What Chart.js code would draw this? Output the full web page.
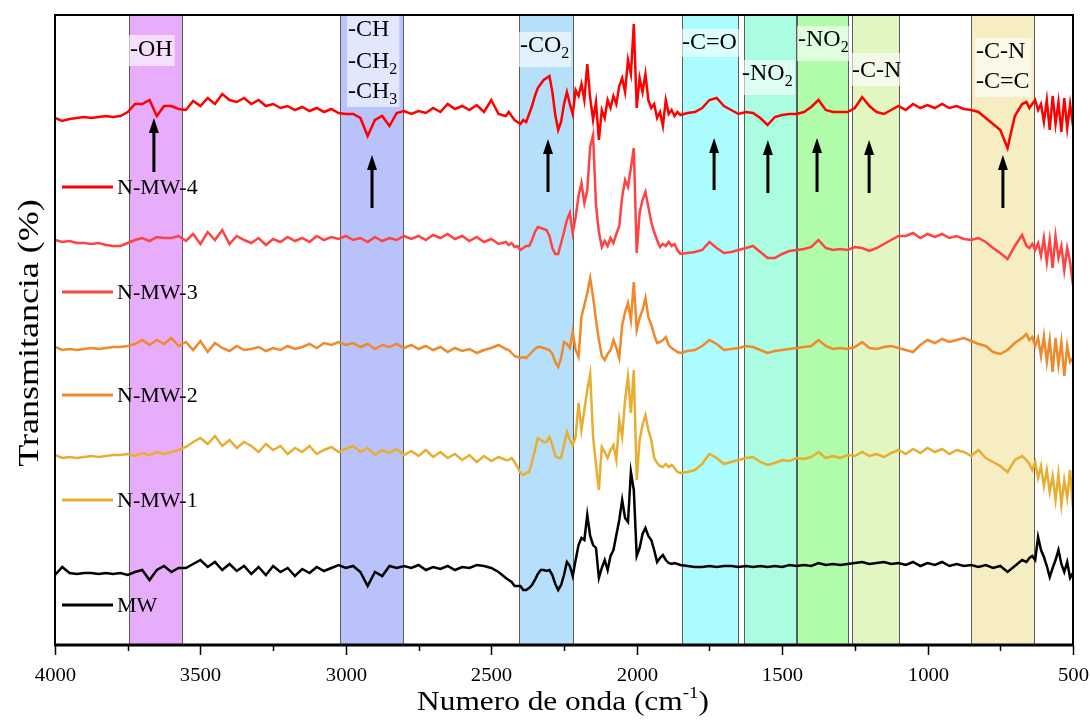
<!DOCTYPE html>
<html>
<head>
<meta charset="utf-8">
<title>FTIR</title>
<script src="https://cdn.jsdelivr.net/npm/chart.js@4.4.1/dist/chart.umd.min.js"></script>
<style>
  html, body { margin: 0; padding: 0; background: #fff; }
  #wrap { width: 1090px; height: 720px; }
</style>
</head>
<body>
<div id="wrap"><canvas id="ftir" width="1090" height="720"></canvas></div>
<script>
// FTIR spectra, stacked (arbitrary transmittance units)

const wavenumbers = [
    4000, 3975, 3950, 3925, 3900, 3875, 3850, 3825, 3800, 3775, 3750, 3725, 3700, 3675, 3650, 3625, 3600, 3575, 3550, 3525,
    3500, 3475, 3450, 3425, 3400, 3375, 3350, 3325, 3300, 3275, 3250, 3225, 3200, 3175, 3150, 3125, 3100, 3075, 3050, 3025,
    3000, 2975, 2950, 2925, 2900, 2875, 2850, 2825, 2800, 2775, 2750, 2725, 2700, 2675, 2650, 2625, 2600, 2575, 2550, 2525,
    2500, 2475, 2450,
    2440, 2430, 2420, 2410, 2400, 2390, 2380, 2370, 2360, 2350, 2340, 2330, 2320, 2310, 2300, 2290, 2280, 2270, 2260, 2250,
    2240, 2230, 2220, 2210, 2200, 2190, 2180, 2170, 2160, 2150, 2140, 2130, 2120, 2110, 2100, 2090, 2080, 2070, 2060, 2050,
    2040, 2030, 2020, 2010, 2000, 1990, 1980, 1970, 1960, 1950, 1940, 1930, 1920, 1910, 1900, 1890, 1880, 1870, 1860,
    1850, 1825, 1800, 1775, 1750, 1725, 1700, 1675, 1650, 1625, 1600, 1575, 1550, 1525, 1500, 1475, 1450, 1425, 1400, 1375,
    1350, 1325, 1300, 1275, 1250, 1225, 1200, 1175, 1150, 1125, 1100, 1075, 1050, 1025, 1000, 975, 950, 925, 900, 875,
    850, 825, 800, 775, 750, 725, 700, 675,
    660, 650, 640, 630, 620, 610, 600, 590, 580, 570, 560, 550, 540, 530, 520, 510, 500
];

const seriesNames = ['N-MW-4', 'N-MW-3', 'N-MW-2', 'N-MW-1', 'MW'];

const nmw4 = [
    527, 524, 526, 527, 528, 527, 528, 529, 528, 529, 533, 541, 541, 545, 529, 539, 539, 536, 535, 544,
    539, 547, 541, 551, 545, 543, 547, 541, 545, 539, 541, 537, 539, 535, 538, 534, 537, 533, 536, 532,
    531, 531, 527, 509, 525, 529, 519, 532, 534, 531, 534, 532, 537, 533, 541, 536, 539, 535, 540, 533,
    545, 531, 529,
    533, 529, 525, 523, 521, 525, 523, 531, 539, 549, 557, 561, 565, 567, 569, 553, 530, 515, 523, 541,
    553, 541, 531, 555, 549, 561, 545, 581, 547, 525, 543, 505, 535, 527, 545, 537, 549, 541, 559, 567,
    553, 585, 571, 621, 537, 567, 553, 571, 545, 537, 541, 527, 533, 519, 545, 531, 535, 529, 533,
    530, 532, 533, 537, 545, 547, 539, 535, 531, 533, 532, 527, 520, 528, 530, 531, 531, 533, 538, 545,
    535, 533, 533, 533, 537, 548, 539, 533, 531, 535, 539, 535, 541, 537, 540, 537, 541, 537, 539, 536,
    535, 533, 527, 521, 515, 497, 529, 541,
    543, 537, 541, 545, 535, 541, 523, 545, 515, 549, 521, 543, 513, 547, 517, 541, 519
];

const nmw3 = [
    405, 403, 404, 402, 402, 401, 402, 400, 399, 399, 402, 405, 407, 404, 408, 407, 407, 409, 404, 411,
    401, 413, 405, 415, 401, 409, 405, 402, 407, 400, 406, 403, 408, 404, 407, 403, 409, 405, 408, 406,
    409, 405, 407, 403, 408, 404, 407, 405, 409, 406, 409, 405, 410, 407, 411, 406, 409, 404, 408, 403,
    406, 401, 403,
    400, 402, 398, 399, 395, 397, 399, 399, 405, 413, 418, 417, 416, 415, 409, 397, 391, 391, 402, 413,
    425, 432, 412, 428, 449, 462, 442, 455, 498, 510, 440, 413, 398, 404, 399, 407, 402, 411, 419, 448,
    465, 458, 477, 497, 392, 432, 445, 453, 438, 423, 413, 405, 398, 401, 399, 403, 399, 401, 395,
    391, 392, 393, 395, 403, 397, 392, 393, 395, 397, 399, 393, 387, 387, 391, 394, 395, 396, 398, 405,
    397, 395, 396, 395, 398, 397, 394, 397, 401, 405, 409, 409, 412, 407, 411, 408, 411, 407, 409, 406,
    405, 407, 403, 397, 392, 386, 399, 410,
    399, 397, 401, 395, 402, 389, 407, 383, 405, 377, 409, 387, 399, 375, 397, 383, 360
];

const nmw2 = [
    298, 295, 296, 295, 296, 297, 296, 297, 298, 298, 299, 301, 305, 300, 305, 301, 307, 299, 303, 295,
    304, 293, 302, 297, 294, 299, 295, 296, 298, 294, 297, 295, 299, 296, 298, 301, 297, 302, 300, 303,
    300, 302, 298, 301, 296, 300, 298, 301, 297, 300, 296, 299, 295, 298, 293, 297, 294, 296, 292, 295,
    297, 300, 296,
    295, 292, 289, 288, 287, 288, 287, 290, 293, 296, 298, 298, 297, 296, 295, 291, 283, 278, 287, 303,
    301, 297, 313, 295, 288, 328, 340, 352, 367, 348, 325, 305, 289, 285, 291, 295, 305, 297, 287, 320,
    333, 342, 325, 363, 315, 327, 335, 347, 328, 320, 310, 302, 303, 305, 308, 300, 297, 295, 293,
    292, 294, 295, 299, 305, 301, 295, 296, 297, 299, 298, 295, 292, 294, 295, 296, 297, 298, 299, 305,
    299, 296, 297, 296, 298, 303, 297, 296, 298, 299, 297, 295, 293, 300, 305, 302, 306, 303, 305, 307,
    304, 301, 299, 293, 291, 295, 302, 307,
    311, 305, 308, 299, 307, 289, 309, 283, 305, 273, 307, 280, 303, 269, 299, 283, 287
];

const nmw1 = [
    190, 187, 188, 187, 188, 189, 188, 189, 190, 190, 191, 189, 192, 190, 193, 191, 193, 195, 198, 203,
    207, 201, 209, 199, 205, 197, 203, 199, 193, 201, 195, 199, 191, 197, 193, 199, 191, 195, 198, 193,
    196, 199, 193, 197, 190, 195, 192, 196, 190, 194, 189, 195, 188, 193, 187, 191, 185, 190, 183, 189,
    184, 188, 185,
    185, 187, 183, 178, 172, 170, 172, 173, 183, 195, 207, 205, 203, 203, 208, 200, 189, 187, 187, 200,
    213, 205, 200, 208, 242, 215, 235, 255, 271, 208, 180, 155, 198, 193, 187, 195, 200, 185, 225, 208,
    245, 268, 232, 275, 165, 205, 220, 230, 215, 205, 187, 182, 179, 178, 181, 178, 180, 177, 173,
    172, 173, 175, 181, 191, 187, 181, 183, 185, 187, 188, 183, 180, 182, 185, 184, 187, 186, 188, 193,
    187, 189, 187, 190, 189, 193, 189, 191, 188, 192, 195, 191, 196, 192, 197, 193, 196, 191, 195, 193,
    189, 195, 187, 183, 179, 173, 185, 189,
    185, 181, 175, 183, 167, 179, 159, 175, 153, 169, 145, 171, 140, 165, 147, 175, 137
];

const mw = [
    70, 78, 72, 71, 72, 72, 71, 72, 71, 72, 70, 73, 75, 65, 75, 79, 73, 77, 77, 81,
    85, 78, 83, 75, 81, 74, 79, 71, 78, 70, 79, 73, 77, 69, 76, 72, 78, 74, 77, 80,
    77, 79, 73, 59, 73, 69, 79, 77, 79, 77, 80, 75, 78, 76, 79, 75, 78, 77, 80, 79,
    77, 73, 67,
    65, 63, 59, 59, 59, 55, 55, 57, 60, 65, 71, 75, 75, 74, 75, 70, 61, 55, 60, 70,
    83, 79, 69, 85, 100, 107, 105, 130, 109, 100, 97, 67, 77, 85, 75, 89, 95, 110, 125, 145,
    127, 123, 173, 155, 89, 97, 111, 117, 109, 105, 95, 83, 87, 90, 85, 82, 81, 82, 81,
    80, 79, 78, 78, 79, 78, 79, 79, 78, 79, 78, 79, 78, 79, 78, 80, 79, 80, 79, 82,
    80, 81, 80, 81, 82, 83, 81, 82, 83, 81, 82, 80, 83, 79, 82, 80, 83, 79, 81, 79,
    80, 78, 80, 77, 79, 73, 79, 85,
    83, 87, 89, 85, 108, 95, 88, 79, 68, 77, 85, 95, 81, 73, 83, 67, 72
];

// absorption bands (cm-1, high -> low) and their group labels
const bandRanges = [[3745, 3565], [3020, 2805], [2405, 2220], [1845, 1652], [1631, 1453], [1449, 1274], [1260, 1099], [851, 635]];
const bandLabels = [['-OH'], ['-CH', '-CH_2', '-CH_3'], ['-CO_2'], ['-C=O'], ['-NO_2'], ['-NO_2'], ['-C-N'], ['-C-N', '-C=C']];
const arrowAt = [3660, 2910, 2305, 1734, 1549, 1380, 1201, 741];

const majorTicks = [4000, 3500, 3000, 2500, 2000, 1500, 1000, 500];
const minorTicks = [3750, 3250, 2750, 2250, 1750, 1250, 750];

// styling
const seriesValues = [nmw4, nmw3, nmw2, nmw1, mw];
const lineColors = ['#ff0000', '#ff4242', '#f0882c', '#e8ae32', '#000000'];
const bandColors = ['#e8adfa', '#b9c2fb', '#b5dffb', '#abfdfd', '#abfde1', '#b0fcaa', '#e2f6c2', '#f6eec2'];
const labelBoxes = [
    { dx: 0, top: 35, bottom: 66, ys: [50] },
    { dx: 7, top: 15, bottom: 107, ys: [30, 62, 92] },
    { dx: 0, top: 32, bottom: 67, ys: [46] },
    { dx: -1, top: 29, bottom: 57, ys: [43] },
    { dx: -3, top: 60, bottom: 95, ys: [74] },
    { dx: 0, top: 26, bottom: 61, ys: [40] },
    { dx: -1, top: 53, bottom: 86, ys: [71] },
    { dx: 4, top: 38, bottom: 97, ys: [52, 82] }
];
const arrowY = [[118, 172], [155, 208], [139, 192], [138, 190], [140, 193], [138, 192], [140, 193], [155, 208]];
const legendY = [187, 292, 395, 500, 605];
const SERIF = '"Liberation Serif", "Times New Roman", serif';

// text with an optional subscript: '-CH_2'
function drawRich(ctx, text, x, y, size, measureOnly) {
    const parts = text.split('_');
    ctx.font = size + 'px ' + SERIF;
    let w = ctx.measureText(parts[0]).width;
    if (!measureOnly) ctx.fillText(parts[0], x, y);
    if (parts[1]) {
        const sub = Math.round(size * 0.66);
        ctx.font = sub + 'px ' + SERIF;
        if (!measureOnly) ctx.fillText(parts[1], x + w, y + size * 0.32);
        w += ctx.measureText(parts[1]).width;
    }
    return w;
}

function drawStretched(ctx, x, y, angle, sx, pieces) {
    // pieces: [text, size, dy]
    ctx.save();
    ctx.translate(x, y);
    ctx.rotate(angle);
    ctx.scale(sx, 1);
    let total = 0;
    pieces.forEach(p => { ctx.font = p[1] + 'px ' + SERIF; total += ctx.measureText(p[0]).width; });
    let cx = -total / 2;
    pieces.forEach(p => {
        ctx.font = p[1] + 'px ' + SERIF;
        ctx.fillText(p[0], cx, p[2]);
        cx += ctx.measureText(p[0]).width;
    });
    ctx.restore();
}

const decorations = {
    id: 'decorations',
    beforeDatasetsDraw(chart) {
        const { ctx, chartArea: a, scales: { x } } = chart;
        ctx.save();
        bandRanges.forEach(([w1, w2], i) => {
            const p1 = Math.round(x.getPixelForValue(w1));
            const p2 = Math.round(x.getPixelForValue(w2));
            ctx.fillStyle = bandColors[i];
            ctx.fillRect(p1, a.top, p2 - p1, a.bottom - a.top);
            ctx.strokeStyle = '#5c5c5c';
            ctx.lineWidth = 1;
            ctx.strokeRect(p1 + 0.5, a.top, p2 - p1, a.bottom - a.top);
        });
        ctx.restore();
    },
    afterDatasetsDraw(chart) {
        const { ctx, chartArea: a, scales: { x } } = chart;
        ctx.save();
        ctx.textBaseline = 'middle';
        ctx.textAlign = 'left';

        // band labels
        bandLabels.forEach((lines, i) => {
            const cfg = labelBoxes[i];
            const left = Math.round(x.getPixelForValue(bandRanges[i][0])) + cfg.dx;
            const w = Math.max(...lines.map(t => drawRich(ctx, t, 0, 0, 24, true)));
            ctx.fillStyle = 'rgba(255,255,255,0.6)';
            ctx.fillRect(left, cfg.top, w + 3, cfg.bottom - cfg.top);
            ctx.fillStyle = '#000';
            lines.forEach((t, j) => drawRich(ctx, t, left + 1, cfg.ys[j], 24));
        });

        // arrows
        ctx.strokeStyle = '#000';
        ctx.fillStyle = '#000';
        ctx.lineWidth = 3;
        arrowAt.forEach((w, i) => {
            const px = x.getPixelForValue(w);
            const [tip, tail] = arrowY[i];
            ctx.beginPath();
            ctx.moveTo(px, tail);
            ctx.lineTo(px, tip + 10);
            ctx.stroke();
            ctx.beginPath();
            ctx.moveTo(px, tip);
            ctx.lineTo(px - 5, tip + 15);
            ctx.lineTo(px + 5, tip + 15);
            ctx.closePath();
            ctx.fill();
        });

        // legend
        seriesNames.forEach((name, i) => {
            ctx.strokeStyle = lineColors[i];
            ctx.lineWidth = 3;
            ctx.beginPath();
            ctx.moveTo(62, legendY[i]);
            ctx.lineTo(113, legendY[i]);
            ctx.stroke();
            ctx.fillStyle = '#000';
            ctx.font = '22px ' + SERIF;
            ctx.fillText(name, 117, legendY[i] + 1);
        });

        // frame
        ctx.strokeStyle = '#000';
        ctx.lineWidth = 2;
        ctx.strokeRect(a.left, a.top, a.right - a.left, a.bottom - a.top);
        ctx.lineWidth = 3;
        ctx.beginPath();
        ctx.moveTo(a.left - 1, a.bottom);
        ctx.lineTo(a.right + 1, a.bottom);
        ctx.stroke();

        // tick marks and labels
        ctx.lineWidth = 1.5;
        majorTicks.forEach(w => {
            const px = Math.round(x.getPixelForValue(w)) + 0.5;
            ctx.beginPath(); ctx.moveTo(px, a.bottom); ctx.lineTo(px, a.bottom + 10); ctx.stroke();
            drawStretched(ctx, px, a.bottom + 31, 0, 1.15, [[String(w), 18, 0]]);
        });
        minorTicks.forEach(w => {
            const px = Math.round(x.getPixelForValue(w)) + 0.5;
            ctx.beginPath(); ctx.moveTo(px, a.bottom); ctx.lineTo(px, a.bottom + 6); ctx.stroke();
        });

        // axis titles
        ctx.fillStyle = '#000';
        ctx.textBaseline = 'middle';
        drawStretched(ctx, 563, 703, 0, 1.12, [['Numero de onda (cm', 28, 0], ['-1', 17, -9], [')', 28, 0]]);
        drawStretched(ctx, 30, 333, -Math.PI / 2, 1.2, [['Transmitancia (%)', 30, 0]]);
        ctx.restore();
    }
};

new Chart(document.getElementById('ftir'), {
    type: 'line',
    data: {
        datasets: seriesNames.map((name, i) => ({
            label: name,
            data: wavenumbers.map((w, j) => ({ x: w, y: seriesValues[i][j] })),
            borderColor: lineColors[i],
            borderWidth: 2.5,
            pointRadius: 0,
            tension: 0,
            fill: false
        }))
    },
    options: {
        responsive: false,
        animation: false,
        layout: { padding: { top: 15, right: 17, left: 0, bottom: 0 } },
        plugins: {
            legend: { display: false },
            tooltip: { enabled: false }
        },
        scales: {
            x: {
                type: 'linear',
                reverse: true,
                min: 500,
                max: 4000,
                afterFit: s => { s.height = 75; s.paddingLeft = 0; s.paddingRight = 0; },
                grid: { display: false, drawTicks: false },
                border: { display: false },
                ticks: { display: false, stepSize: 500 }
            },
            y: {
                min: 0,
                max: 630,
                afterFit: s => { s.width = 55; },
                grid: { display: false, drawTicks: false },
                border: { display: false },
                ticks: { display: false }
            }
        }
    },
    plugins: [decorations]
});
</script>
</body>
</html>
